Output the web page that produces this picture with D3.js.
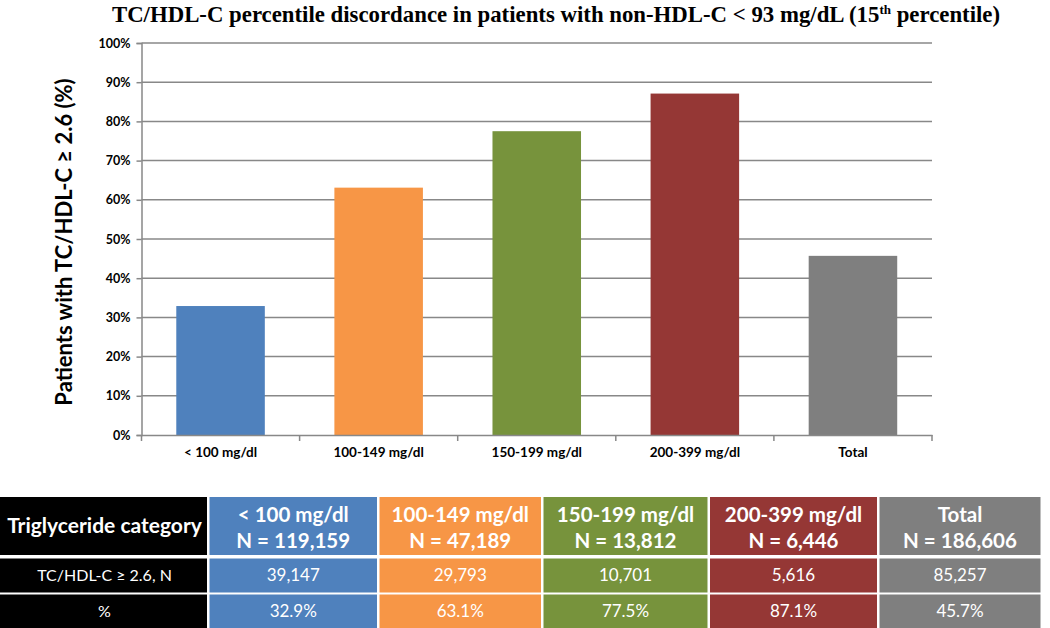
<!DOCTYPE html>
<html><head><meta charset="utf-8">
<script src="https://cdn.jsdelivr.net/npm/d3@7"></script>
<style>body{margin:0;background:#fff}svg{display:block}</style>
</head><body>
<svg id="c" width="1050" height="628"></svg>
<script>
const categories = ["< 100 mg/dl", "100-149 mg/dl", "150-199 mg/dl", "200-399 mg/dl", "Total"];
const percents = [32.9, 63.1, 77.5, 87.1, 45.7];
const totalN = ["119,159", "47,189", "13,812", "6,446", "186,606"];
const countN = ["39,147", "29,793", "10,701", "5,616", "85,257"];
const pctLabels = ["32.9%", "63.1%", "77.5%", "87.1%", "45.7%"];
const colors = ["#4F81BD", "#F79646", "#77933C", "#953735", "#7F7F7F"];
const yTicks = [0,10,20,30,40,50,60,70,80,90,100];

const svg = d3.select("#c");
const font = "Lato, 'Open Sans', sans-serif";

// title
const title = svg.append("text").attr("x", 556).attr("y", 22).attr("text-anchor","middle")
  .attr("font-family","'Liberation Serif', 'Times New Roman', serif").attr("font-weight","bold")
  .attr("font-size", 22.8).attr("fill","#000");
title.append("tspan").text("TC/HDL-C percentile discordance in patients with non-HDL-C < 93 mg/dL (15");
title.append("tspan").attr("font-size", 13).attr("dy", -8).text("th");
title.append("tspan").attr("dy", 8).text(" percentile)");

const x = d3.scaleBand().domain(categories).range([141.5, 932]).paddingInner(0.44).paddingOuter(0.22);
const y = d3.scaleLinear().domain([0, 100]).range([435, 43]);

// gridlines
svg.append("g").selectAll("line").data(yTicks.filter(d => d > 0)).join("line")
  .attr("x1", 141.5).attr("x2", 932).attr("y1", d => y(d)).attr("y2", d => y(d))
  .attr("stroke", "#888").attr("stroke-width", 1.5);

// bars
svg.append("g").selectAll("rect").data(categories).join("rect")
  .attr("x", d => x(d)).attr("width", x.bandwidth())
  .attr("y", (d,i) => y(percents[i])).attr("height", (d,i) => y(0) - y(percents[i]))
  .attr("fill", (d,i) => colors[i]);

// y axis
const yAxis = svg.append("g").attr("transform","translate(141.5,0)")
  .call(d3.axisLeft(y).tickValues(yTicks).tickFormat(d => d + "%").tickSize(5).tickPadding(6));
yAxis.select(".domain").attr("stroke","#888").attr("stroke-width",1.5);
yAxis.selectAll(".tick line").attr("stroke","#888").attr("stroke-width",1.5);
yAxis.selectAll("text").attr("font-family", font).attr("font-weight","bold").attr("font-size", 12.5).attr("fill","#000");

// x axis
const xAxis = svg.append("g").attr("transform","translate(0,435)")
  .call(d3.axisBottom(x).tickSize(0).tickPadding(12));
xAxis.select(".domain").attr("stroke","#888").attr("stroke-width",1.5);
xAxis.selectAll("text").attr("font-family", font).attr("font-weight","bold").attr("font-size", 13.5).attr("fill","#000");
// x category boundary ticks
const bounds = categories.map((c, i) => i === 0 ? 141.5 : x(c) - x.step()*x.paddingInner()/2);
bounds.push(932);
svg.append("g").selectAll("line").data(bounds).join("line")
  .attr("x1", d => d).attr("x2", d => d).attr("y1", 435).attr("y2", 441)
  .attr("stroke","#888").attr("stroke-width",1.5);

// y axis title
svg.append("text").attr("transform","translate(72,242) rotate(-90)").attr("text-anchor","middle")
  .attr("font-family", font).attr("font-weight","bold").attr("font-size", 22).attr("fill","#000")
  .text("Patients with TC/HDL-C \u2265 2.6 (%)");

// table
const colX = [0, 209.5, 379.5, 543.5, 710, 879.5];
const colW = [207, 167.5, 161.5, 164, 167, 161];
const rows = [{y:497, h:58}, {y:558.5, h:34}, {y:594.5, h:34}];
const tbl = svg.append("g");
const rowLabels = ["Triglyceride category", "TC/HDL-C \u2265 2.6, N", "%"];
rows.forEach((r, ri) => {
  tbl.append("rect").attr("x", colX[0]).attr("y", r.y).attr("width", colW[0]).attr("height", r.h).attr("fill", "#000");
  tbl.append("text").attr("x", colX[0] + colW[0]/2 + 1).attr("y", r.y + r.h/2).attr("dy","0.35em")
    .attr("text-anchor","middle").attr("font-family", font).attr("fill","#fff")
    .attr("font-weight", ri === 0 ? "bold" : "normal").attr("font-size", ri === 0 ? 21 : 16)
    .text(rowLabels[ri]);
});
categories.forEach((c, i) => {
  const cx = colX[i+1], w = colW[i+1];
  rows.forEach(r => tbl.append("rect").attr("x", cx).attr("y", r.y).attr("width", w).attr("height", r.h).attr("fill", colors[i]));
  const h = tbl.append("text").attr("text-anchor","middle").attr("font-family", font).attr("font-weight","bold")
    .attr("font-size", 20.5).attr("fill","#fff");
  h.append("tspan").attr("x", cx + w/2).attr("y", 522).text(c);
  h.append("tspan").attr("x", cx + w/2).attr("y", 548).text("N = " + totalN[i]);
  tbl.append("text").attr("x", cx + w/2).attr("y", rows[1].y + rows[1].h/2).attr("dy","0.35em")
    .attr("text-anchor","middle").attr("font-family", font).attr("font-size", 17).attr("fill","#fff").text(countN[i]);
  tbl.append("text").attr("x", cx + w/2).attr("y", rows[2].y + rows[2].h/2).attr("dy","0.35em")
    .attr("text-anchor","middle").attr("font-family", font).attr("font-size", 17).attr("fill","#fff").text(pctLabels[i]);
});
</script>
</body></html>
